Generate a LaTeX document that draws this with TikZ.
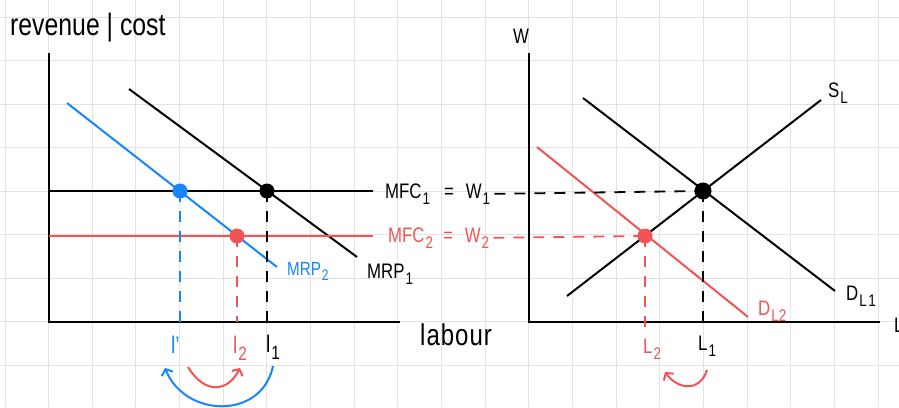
\documentclass[tikz,border=0pt]{standalone}
\usepackage{fontspec}
\usepackage{graphicx}
\setmainfont[FakeStretch=0.8]{Liberation Sans}
\usetikzlibrary{arrows.meta}
\definecolor{gridgray}{HTML}{E3E3E3}
\definecolor{mrpblue}{HTML}{1685FF}
\definecolor{mfcred}{HTML}{F25454}
\newcommand{\idx}[1]{\kern1pt\raisebox{-0.3em}{\scalebox{0.8}{#1}}}

\begin{document}
\begin{tikzpicture}[x=1pt,y=-1pt,>={Straight Barb[length=5pt,width=12pt]},
    gridline/.style={draw=gridgray,line width=1pt},
    axis/.style={line width=2.6pt},
    curve/.style={line width=2pt},
    guide/.style={line width=1.8pt,dash pattern=on 11pt off 9pt},
    dot/.style={circle,fill,inner sep=0pt,minimum size=15pt},
    lbl/.style={font=\fontsize{21}{24}\selectfont,inner sep=0pt,anchor=base west}]
  \useasboundingbox[fill=white] (0,0) rectangle (899,407);
  % grid paper
  \foreach \i in {0,...,20} \draw[gridline] ({5+43.65*\i},0) -- ++(0,407);
  \foreach \j in {0,...,8} \draw[gridline] (0,{17+43.55*\j}) -- ++(899,0);

  % left: firm
  \coordinate (yL) at (49,53);
  \coordinate (oL) at (49,322);
  \coordinate (xL) at (400,322);
  \draw[axis] (yL) -- (oL) -- (xL);
  \node[lbl,font=\fontsize{31}{34}\selectfont] (rev) at (10,35) {revenue | cost};
  \node[lbl,font=\fontsize{30}{32}\selectfont] (lab) at (420,345) {l\kern1pt a\kern1pt b\kern1pt o\kern1pt u\kern1pt r};

  \coordinate (mrp1a) at (129,89);
  \coordinate (mrp1b) at (357,257);
  \coordinate (mrp2a) at (67,103);
  \coordinate (mrp2b) at (277,267);
  \coordinate (mfc1a) at (49,191);
  \coordinate (mfc1b) at (373,191);
  \coordinate (mfc2a) at (49,236);
  \coordinate (mfc2b) at (373,236);
  \draw[curve] (mrp1a) -- (mrp1b);
  \draw[curve,mrpblue] (mrp2a) -- (mrp2b);
  \draw[curve] (mfc1a) -- (mfc1b);
  \draw[curve,mfcred] (mfc2a) -- (mfc2b);

  \coordinate (eB) at (180,191);
  \coordinate (eK) at (267,191);
  \coordinate (eR) at (237,236);
  \draw[guide,mrpblue] (eB) -- (eB |- oL);
  \draw[guide] (eK) -- (eK |- oL);
  \draw[guide,mfcred] (eR) -- (eR |- oL);

  \node[lbl,font=\fontsize{19}{20}\selectfont,mrpblue] (mrp2) at (287,275) {MRP\idx{2}};
  \node[lbl] (mrp1) at (367,278) {MRP\idx{1}};
  \node[lbl] (mfc1) at (385,198) {MFC\idx{1}\hspace{14pt}=\hspace{12pt}W\idx{1}};
  \node[lbl,mfcred] (mfc2) at (388,242) {MFC\idx{2}\hspace{10pt}=\hspace{12pt}W\idx{2}};

  \node[lbl,font=\fontsize{24}{26}\selectfont,mrpblue] (lp) at (171,353) {l'};
  \node[lbl,font=\fontsize{24}{26}\selectfont,mfcred] (l2) at (233,353) {l\idx{2}};
  \node[lbl,font=\fontsize{24}{26}\selectfont] (l1) at (266,352) {l\idx{1}};

  \coordinate (a1s) at (188,367);
  \coordinate (a1e) at (240,368);
  \coordinate (a2s) at (273,366);
  \coordinate (a2e) at (165,368);
  \draw[curve,mfcred,->] (a1s) .. controls (205,395) and (228,392) .. (a1e);
  \draw[curve,mrpblue,->] (a2s) .. controls (262,420) and (185,418) .. (a2e);

  % right: market
  \coordinate (yR) at (529,53);
  \coordinate (oR) at (529,322);
  \coordinate (xR) at (880,322);
  \draw[axis] (yR) -- (oR) -- (xR);
  \node[lbl] (wlab) at (513,43) {W};
  \node[lbl] (llab) at (894,332) {L};

  \coordinate (d1a) at (583,98);
  \coordinate (d1b) at (835,291);
  \coordinate (sa) at (567,296);
  \coordinate (sb) at (821,100);
  \coordinate (d2a) at (537,147);
  \coordinate (d2b) at (748,317);
  \draw[curve] (d1a) -- (d1b);
  \draw[curve] (sa) -- (sb);
  \draw[curve,mfcred] (d2a) -- (d2b);

  \coordinate (fK) at (703,191);
  \coordinate (fR) at (645,236);
  \draw[guide] ([xshift=4pt]mfc1.east) -- (fK);
  \draw[guide,mfcred] ([xshift=4pt]mfc2.east) -- (fR);
  \draw[guide] (fK) -- (fK |- oR);
  \draw[guide,mfcred] (fR) -- ++(0,94);

  \node[lbl] (sl) at (828,97) {S\idx{L}};
  \node[lbl] (dl1) at (846,300) {D\idx{L\kern2pt 1}};
  \node[lbl,mfcred] (dl2) at (758,315) {D\idx{L2}};
  \node[lbl,mfcred] (L2) at (643,353) {L\idx{2}};
  \node[lbl] (L1) at (698,350) {L\idx{1}};

  \coordinate (a3s) at (707,370);
  \coordinate (a3e) at (665,372);
  \draw[curve,mfcred,->] (a3s) .. controls (700,392) and (678,390) .. (a3e);

  % equilibrium points
  \node[dot,mrpblue] (pB) at (eB) {};
  \node[dot] (pK) at (eK) {};
  \node[dot,mfcred] (pR) at (eR) {};
  \node[dot,minimum size=17pt] (qK) at (fK) {};
  \node[dot,mfcred] (qR) at (fR) {};
\end{tikzpicture}
\end{document}
